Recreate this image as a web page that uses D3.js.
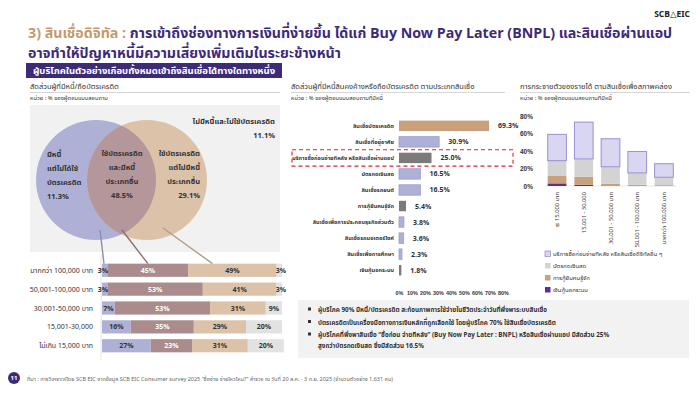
<!DOCTYPE html>
<html>
<head>
<meta charset="utf-8">
<script src="https://cdn.jsdelivr.net/npm/d3@7"></script>
<style>
  html, body { margin: 0; padding: 0; background: #fff; }
  svg { display: block; font-family: "Noto Sans Thai", "Noto Sans", "DejaVu Sans", sans-serif; }
</style>
</head>
<body>
<svg id="chart" width="700" height="394"></svg>
<script>
// ---- data ----
const vennShares = { debtNoCard: 11.3, both: 48.5, cardNoDebt: 29.1, neither: 11.1 };

const incomeGroups = ["มากกว่า 100,000 บาท", "50,001-100,000 บาท", "30,001-50,000 บาท", "15,001-30,000", "ไม่เกิน 15,000 บาท"];
const debtNoCard = [3, 3, 7, 16, 27];
const cardAndDebt = [45, 53, 53, 35, 23];
const cardNoDebt = [49, 41, 31, 29, 31];
const noDebtNoCard = [3, 3, 9, 20, 20];

const loanTypes = [
  "สินเชื่อบัตรเครดิต",
  "สินเชื่อที่อยู่อาศัย",
  "บริการซื้อก่อนจ่ายทีหลัง หรือสินเชื่อผ่านแอป",
  "บัตรกดเงินสด",
  "สินเชื่อรถยนต์",
  "การกู้ยืมคนรู้จัก",
  "สินเชื่อเพื่อการประกอบธุรกิจส่วนตัว",
  "สินเชื่อรถมอเตอร์ไซค์",
  "สินเชื่อเพื่อการศึกษา",
  "เงินกู้นอกระบบ",
];
const loanShares = [69.3, 30.9, 25.0, 16.5, 16.5, 5.4, 3.8, 3.6, 2.3, 1.8];
const loanTicks = [0, 10, 20, 30, 40, 50, 60, 70, 80];

const incomeCols = ["≤ 15,000 บาท", "15,001 - 30,000", "30,001 - 50,000 บาท", "50,001 - 100,000 บาท", "มากกว่า 100,000 บาท"];
const informalLoan = [3, 1.5, 0, 0, 0];
const acquaintanceLoan = [8.5, 9, 2.5, 1.5, 1];
const cashCard = [17.5, 20.5, 19.5, 13.5, 9];
const digitalLoan = [30, 42, 32, 24.5, 15.5];
const colTicks = [0, 20, 40, 60, 80];
const colSeries = ["บริการซื้อก่อนจ่ายทีหลัง หรือสินเชื่อดิจิทัลอื่น ๆ", "บัตรกดเงินสด", "การกู้ยืมคนรู้จัก", "เงินกู้นอกระบบ"];

const notes = [
  ["ผู้บริโภค 90% มีหนี้/บัตรเครดิต สะท้อนภาพการใช้จ่ายในชีวิตประจำวันที่พึ่งพาระบบสินเชื่อ"],
  ["บัตรเครดิตเป็นเครื่องมือทางการเงินหลักที่ถูกเลือกใช้ โดยผู้บริโภค 70% ใช้สินเชื่อบัตรเครดิต"],
  ["ผู้บริโภคที่พึ่งพาสินเชื่อ “ซื้อก่อน จ่ายทีหลัง” (Buy Now Pay Later : BNPL) หรือสินเชื่อผ่านแอป มีสัดส่วน 25%",
   "สูงกว่าบัตรกดเงินสด ซึ่งมีสัดส่วน 16.5%"],
];

// ---- colours ----
const PURPLE = "#3d2b78";
const TAN_T = "#c49a6c";
const LAV = "#aeb0d6";
const MAUVE = "#ab8c8c";
const TAN = "#dcc2a8";
const GREY = "#e2e2e2";
const TXT = "#333";

const svg = d3.select("#chart");
svg.append("rect").attr("width", 700).attr("height", 394).attr("fill", "#fff");

// shrink a text's font so that it spans roughly `target` px
function fitText(sel, target) {
  const fs = +sel.attr("font-size");
  const len = sel.node().getComputedTextLength();
  const nfs = len > target ? fs * target / len : fs;
  sel.attr("font-size", nfs);
  return nfs;
}

// ---- header ----
svg.append("text").attr("x", 690).attr("y", 17).attr("text-anchor", "end")
  .attr("font-size", 8.5).attr("font-weight", 700).attr("fill", "#222").text("SCB△EIC");

const t1 = svg.append("text").attr("x", 28).attr("y", 37.5).attr("font-size", 15).attr("font-weight", 700);
t1.append("tspan").attr("fill", TAN_T).text("3) สินเชื่อดิจิทัล : ");
t1.append("tspan").attr("fill", PURPLE).text("การเข้าถึงช่องทางการเงินที่ง่ายขึ้น ได้แก่ Buy Now Pay Later (BNPL) และสินเชื่อผ่านแอป");
const titleFs = fitText(t1, 645);
svg.append("text").attr("x", 28).attr("y", 57.5).attr("font-size", titleFs).attr("font-weight", 700)
  .attr("fill", PURPLE).text("อาจทำให้ปัญหาหนี้มีความเสี่ยงเพิ่มเติมในระยะข้างหน้า");

// ---- left panel ----
svg.append("rect").attr("x", 26).attr("y", 63).attr("width", 256).attr("height", 15).attr("fill", PURPLE);
svg.append("text").attr("x", 154).attr("y", 74).attr("text-anchor", "middle").attr("font-size", 9.5)
  .attr("font-weight", 700).attr("fill", "#fff").text("ผู้บริโภคในตัวอย่างเกือบทั้งหมดเข้าถึงสินเชื่อได้ทางใดทางหนึ่ง");

function panelTitle(x, w, title, unit) {
  svg.append("text").attr("x", x).attr("y", 89).attr("font-size", 7.5).attr("fill", TXT).text(title);
  svg.append("line").attr("x1", x).attr("x2", x + w).attr("y1", 92.5).attr("y2", 92.5)
    .attr("stroke", "#bbb").attr("stroke-width", 0.6);
  svg.append("text").attr("x", x).attr("y", 100).attr("font-size", 5.8).attr("fill", TXT).text(unit);
}
panelTitle(30, 250, "สัดส่วนผู้ที่มีหนี้/ถือบัตรเครดิต", "หน่วย : % ของผู้ตอบแบบสอบถาม");
panelTitle(291, 214, "สัดส่วนผู้ที่มีหนี้สินคงค้างหรือถือบัตรเครดิต ตามประเภทสินเชื่อ", "หน่วย : % ของผู้ตอบแบบสอบถามที่มีหนี้");
panelTitle(520, 170, "การกระจายตัวของรายได้ ตามสินเชื่อเพื่อสภาพคล่อง", "หน่วย : % ของผู้ตอบแบบสอบถามที่มีหนี้");

// venn
svg.append("rect").attr("x", 30).attr("y", 105).attr("width", 250).attr("height", 147).attr("fill", "#f1f1f1");
const venn = { lx: 96, rx: 147, cy: 180, r: 60 };
const defs = svg.append("defs");
defs.append("clipPath").attr("id", "clipL").append("circle")
  .attr("cx", venn.lx).attr("cy", venn.cy).attr("r", venn.r);
svg.append("circle").attr("cx", venn.lx).attr("cy", venn.cy).attr("r", venn.r).attr("fill", LAV);
svg.append("circle").attr("cx", venn.rx).attr("cy", venn.cy).attr("r", venn.r).attr("fill", TAN);
svg.append("circle").attr("cx", venn.rx).attr("cy", venn.cy).attr("r", venn.r)
  .attr("fill", "#b3979a").attr("clip-path", "url(#clipL)");

function block(x, y, lines, anchor) {
  const t = svg.append("text").attr("font-size", 7.5).attr("font-weight", 700).attr("fill", TXT)
    .attr("text-anchor", anchor);
  lines.forEach((l, i) => t.append("tspan").attr("x", x).attr("y", y + i * 14).text(l));
}
block(47, 157, ["มีหนี้", "แต่ไม่ได้ใช้", "บัตรเครดิต", vennShares.debtNoCard.toFixed(1) + "%"], "start");
block(122, 156, ["ใช้บัตรเครดิต", "และมีหนี้", "ประเภทอื่น", vennShares.both.toFixed(1) + "%"], "middle");
block(200, 156, ["ใช้บัตรเครดิต", "แต่ไม่มีหนี้", "ประเภทอื่น", vennShares.cardNoDebt.toFixed(1) + "%"], "end");
block(275, 124, ["ไม่มีหนี้และไม่ใช้บัตรเครดิต", vennShares.neither.toFixed(1) + "%"], "end");

// stacked income bars
const stackKeys = ["debtNoCard", "cardAndDebt", "cardNoDebt", "noDebtNoCard"];
const stackRows = incomeGroups.map((g, i) => ({
  group: g, debtNoCard: debtNoCard[i], cardAndDebt: cardAndDebt[i],
  cardNoDebt: cardNoDebt[i], noDebtNoCard: noDebtNoCard[i],
}));
const stackColor = d3.scaleOrdinal(stackKeys, [LAV, MAUVE, TAN, GREY]);
const xs = d3.scaleLinear().domain([0, 100]).range([102, 282]);
const ys = d3.scaleBand().domain(incomeGroups).range([258, 358]).padding(0.3);
const layers = d3.stack().keys(stackKeys)(stackRows);

// connector lines from venn to first bar
const firstRow = layers.map((L) => L[0]);
const linkFrom = [[100, 230], [122, 230], [163, 228]];
[0, 1, 2].forEach((k) => {
  const seg = firstRow[k];
  const tx = k === 0 ? xs(seg[0]) + 2 : xs((seg[0] + seg[1]) / 2) - (k === 1 ? 0 : 20);
  svg.append("line").attr("x1", linkFrom[k][0]).attr("y1", linkFrom[k][1])
    .attr("x2", tx).attr("y2", ys(incomeGroups[0]))
    .attr("stroke", d3.color(stackColor(stackKeys[k])).darker(0.6)).attr("stroke-width", 1.4);
});

svg.append("line").attr("x1", 101).attr("x2", 101).attr("y1", 254).attr("y2", 360)
  .attr("stroke", "#ddd").attr("stroke-width", 0.8);

const lg = svg.append("g");
lg.selectAll("g").data(layers).join("g").attr("fill", (d) => stackColor(d.key))
  .selectAll("rect").data((d) => d).join("rect")
  .attr("x", (d) => xs(d[0])).attr("y", (d) => ys(d.data.group))
  .attr("width", (d) => xs(d[1]) - xs(d[0])).attr("height", ys.bandwidth());

lg.selectAll("g.lbl").data(layers).join("g").attr("class", "lbl")
  .selectAll("text").data((d) => d.map((v) => ({ v, key: d.key }))).join("text")
  .attr("x", (d) => {
    const w = d.v[1] - d.v[0];
    if (w < 5) return d.v[0] < 50 ? xs(d.v[0]) + 1 : xs(d.v[1]) - 1;
    return xs((d.v[0] + d.v[1]) / 2);
  })
  .attr("text-anchor", "middle")
  .attr("y", (d) => ys(d.v.data.group) + ys.bandwidth() / 2 + 2.6)
  .attr("font-size", 7).attr("font-weight", 700)
  .attr("fill", (d) => (d.key === "cardAndDebt" ? "#fff" : TXT))
  .text((d) => `${d.v[1] - d.v[0]}%`);

svg.append("g").selectAll("text").data(incomeGroups).join("text")
  .attr("x", 93).attr("y", (d) => ys(d) + ys.bandwidth() / 2 + 2.6)
  .attr("text-anchor", "end").attr("font-size", 7).attr("fill", TXT).text((d) => d);

// ---- middle panel: loan types ----
const xm = d3.scaleLinear().domain([0, 80]).range([399, 503]);
const ym = d3.scaleBand().domain(loanTypes).range([115, 281]).padding(0.35);
const loanTone = d3.scaleOrdinal(loanTypes,
  ["#c9a07c", LAV, "#7a7a7a", LAV, LAV, "#7a7a7a", LAV, LAV, LAV, "#7a7a7a"]);
const loanRows = loanTypes.map((t, i) => ({ t, v: loanShares[i] }));

svg.append("g").selectAll("rect").data(loanRows).join("rect")
  .attr("x", xm(0)).attr("y", (d) => ym(d.t))
  .attr("width", (d) => xm(d.v) - xm(0)).attr("height", ym.bandwidth())
  .attr("fill", (d) => loanTone(d.t))
  .attr("stroke", (d) => (loanTone(d.t) === LAV ? "#9d9fcd" : "none")).attr("stroke-width", 0.8);

svg.append("g").selectAll("text").data(loanRows).join("text")
  .attr("x", (d) => xm(d.v) + 9).attr("y", (d) => ym(d.t) + ym.bandwidth() / 2 + 2.5)
  .attr("font-size", 7).attr("font-weight", 700).attr("fill", TXT).text((d) => d.v.toFixed(1) + "%");

svg.append("g").selectAll("text").data(loanTypes).join("text")
  .attr("x", 394).attr("y", (d) => ym(d) + ym.bandwidth() / 2 + 2.2)
  .attr("text-anchor", "end").attr("font-size", 5.6).attr("font-weight", 700).attr("fill", TXT).text((d) => d);

svg.append("g").attr("transform", "translate(0,288)")
  .call(d3.axisBottom(xm).tickValues(loanTicks).tickFormat((d) => d + "%").tickSize(0))
  .call((g) => g.select(".domain").remove())
  .call((g) => g.selectAll("text").attr("font-size", 5.4).attr("font-weight", 700)
    .attr("fill", TXT).attr("font-family", null));

// highlight box
const hb = ym(loanTypes[2]);
svg.append("rect").attr("x", 292).attr("y", hb - 3).attr("width", 221).attr("height", ym.bandwidth() + 6)
  .attr("fill", "none").attr("stroke", "#d9262c").attr("stroke-width", 1.1).attr("stroke-dasharray", "4,3");

// ---- right panel: income distribution by liquidity loan ----
const colRows = incomeCols.map((c, i) => ({
  col: c, informal: informalLoan[i], acquaint: acquaintanceLoan[i], cash: cashCard[i], digital: digitalLoan[i],
}));
const colKeys = ["informal", "acquaint", "cash", "digital"];
const colColor = d3.scaleOrdinal(colKeys, ["#5a2e9c", "#c9a07c", "#d3d3d3", "#d9d6f1"]);
const xr = d3.scaleBand().domain(incomeCols).range([545, 676]).paddingInner(0.3).paddingOuter(0.1);
const yr = d3.scaleLinear().domain([0, 80]).range([186, 116]);
const colLayers = d3.stack().keys(colKeys)(colRows);

svg.append("g").attr("transform", "translate(536,0)")
  .call(d3.axisLeft(yr).tickValues(colTicks).tickFormat((d) => d + "%").tickSize(0))
  .call((g) => g.select(".domain").remove())
  .call((g) => g.selectAll("text").attr("font-size", 6.5).attr("font-weight", 700)
    .attr("fill", TXT).attr("font-family", null));

svg.append("line").attr("x1", 545).attr("x2", 676).attr("y1", yr(0)).attr("y2", yr(0))
  .attr("stroke", "#d9d9d9").attr("stroke-width", 0.6);

svg.append("g").selectAll("g").data(colLayers).join("g")
  .attr("fill", (d) => colColor(d.key))
  .attr("stroke", (d) => (d.key === "digital" ? "#9a90d2" : "none")).attr("stroke-width", 1)
  .selectAll("rect").data((d) => d.filter((v) => v[1] > v[0])).join("rect")
  .attr("x", (d) => xr(d.data.col)).attr("y", (d) => yr(d[1]))
  .attr("width", xr.bandwidth()).attr("height", (d) => yr(d[0]) - yr(d[1]));

svg.append("g").selectAll("text").data(incomeCols).join("text")
  .attr("transform", (d) => `translate(${xr(d) + xr.bandwidth() / 2 + 2},192) rotate(-90)`)
  .attr("text-anchor", "end").attr("font-size", 5.8).attr("fill", TXT).text((d) => d);

const legKeys = ["digital", "cash", "acquaint", "informal"];
const leg = svg.append("g").selectAll("g").data(legKeys).join("g")
  .attr("transform", (d, i) => `translate(545,${251 + i * 12})`);
leg.append("rect").attr("width", 5.5).attr("height", 5.5).attr("fill", (d) => colColor(d))
  .attr("stroke", (d) => (d === "digital" ? "#9a90d2" : "none")).attr("stroke-width", 0.8);
leg.append("text").attr("x", 8).attr("y", 5).attr("font-size", 6).attr("fill", TXT)
  .text((d, i) => colSeries[i]);

// ---- notes box ----
svg.append("rect").attr("x", 298).attr("y", 300).attr("width", 391).attr("height", 58).attr("fill", "#f2f2f2");
let ny = 312;
notes.forEach((lines) => {
  svg.append("rect").attr("x", 308).attr("y", ny - 4.5).attr("width", 3).attr("height", 3).attr("fill", TXT);
  lines.forEach((l) => {
    svg.append("text").attr("x", 318).attr("y", ny).attr("font-size", 6.3).attr("font-weight", 700)
      .attr("fill", TXT).text(l);
    ny += 11;
  });
  ny += 1.5;
});

// ---- footer ----
svg.append("circle").attr("cx", 14).attr("cy", 378).attr("r", 6).attr("fill", PURPLE);
svg.append("text").attr("x", 14).attr("y", 380.3).attr("text-anchor", "middle").attr("font-size", 6)
  .attr("font-weight", 700).attr("fill", "#fff").text("11");
const foot = svg.append("text").attr("x", 27).attr("y", 380.5).attr("font-size", 5.5).attr("fill", "#666")
  .text("ที่มา : การวิเคราะห์โดย SCB EIC จากข้อมูล SCB EIC Consumer survey 2025 “ซื้อง่าย จ่ายไหวไหม?” สำรวจ ณ วันที่ 20 ส.ค. - 3 ก.ย. 2025 (จำนวนตัวอย่าง 1,631 คน)");
fitText(foot, 420);
</script>
</body>
</html>
